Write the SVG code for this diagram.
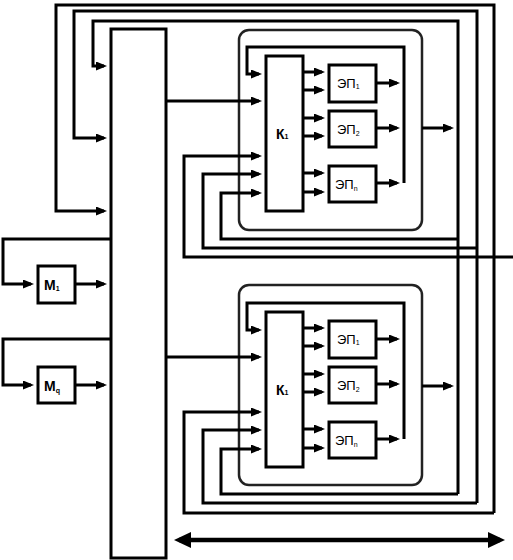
<svg xmlns="http://www.w3.org/2000/svg" width="513" height="560" viewBox="0 0 513 560">
<style>
.ln{fill:none;stroke:#000;stroke-width:3;stroke-linejoin:miter}
.ar{fill:none;stroke:#000;stroke-width:3;marker-end:url(#ah)}
.bx{fill:#fff;stroke:#000;stroke-width:3}
.grp{fill:none;stroke:#222;stroke-width:2.5}
.t{font-family:"Liberation Sans",Arial,sans-serif;font-size:13px;fill:#000}
.tb{font-family:"Liberation Sans",Arial,sans-serif;font-size:14px;font-weight:bold;fill:#000}
.s{font-size:7px}
</style>
<defs>
<marker id="ah" markerUnits="userSpaceOnUse" markerWidth="11" markerHeight="9" viewBox="0 0 11 9" refX="8" refY="4.5" orient="auto"><path d="M0,0 L11,4.5 L0,9 z" fill="#000"/></marker>
<marker id="big" markerUnits="userSpaceOnUse" markerWidth="17" markerHeight="16" viewBox="0 0 17 16" refX="12" refY="8" orient="auto-start-reverse"><path d="M0,0 L17,8 L0,16 z" fill="#000"/></marker>
</defs>

<g id="main-block"><rect class="bx" x="111" y="29" width="55" height="529"/></g>

<g id="module-1">
<rect class="grp" x="239" y="30" width="183" height="200" rx="10"/>
</g>
<g id="module-2">
<rect class="grp" x="239" y="285" width="183" height="200" rx="10"/>
</g>

<g id="connectors">
<path class="ln" d="M494,513 V5 H56 V211 H104" marker-end="url(#ah)"/>
<path class="ln" d="M477,503 V11 H74 V138 H104" marker-end="url(#ah)"/>
<path class="ln" d="M458,494 V21 H93 V66 H104" marker-end="url(#ah)"/>
<path class="ln" d="M513,257 H184 V156 H259" marker-end="url(#ah)"/>
<path class="ln" d="M477,248 H203 V174 H259" marker-end="url(#ah)"/>
<path class="ln" d="M458,239 H221 V193 H259" marker-end="url(#ah)"/>
<path class="ln" d="M494,513 H184 V412 H259" marker-end="url(#ah)"/>
<path class="ln" d="M477,503 H203 V430 H259" marker-end="url(#ah)"/>
<path class="ln" d="M458,494 H221 V449 H259" marker-end="url(#ah)"/>
<path class="ar" d="M166,101 H259"/>
<path class="ar" d="M166,357 H259"/>
<path class="ln" d="M111,239 H3 V284 H31" marker-end="url(#ah)"/>
<path class="ar" d="M75,284 H104"/>
<path class="ln" d="M111,339 H3 V385 H31" marker-end="url(#ah)"/>
<path class="ar" d="M75,385 H104"/>
<path class="ln" d="M404,183 V47 H247 V74 H259" marker-end="url(#ah)"/>
<path class="ar" d="M303,72 H322"/>
<path class="ar" d="M303,90 H322"/>
<path class="ar" d="M303,118 H322"/>
<path class="ar" d="M303,136 H322"/>
<path class="ar" d="M303,173 H322"/>
<path class="ar" d="M303,192 H322"/>
<path class="ar" d="M376,83 H397"/>
<path class="ar" d="M376,128 H397"/>
<path class="ar" d="M376,183 H397"/>
<path class="ar" d="M422,128 H451"/>
<path class="ln" d="M404,439 V303 H247 V330 H259" marker-end="url(#ah)"/>
<path class="ar" d="M303,328 H322"/>
<path class="ar" d="M303,346 H322"/>
<path class="ar" d="M303,374 H322"/>
<path class="ar" d="M303,392 H322"/>
<path class="ar" d="M303,429 H322"/>
<path class="ar" d="M303,448 H322"/>
<path class="ar" d="M376,339 H397"/>
<path class="ar" d="M376,384 H397"/>
<path class="ar" d="M376,439 H397"/>
<path class="ar" d="M422,386 H451"/>
<path d="M179,540 H500" fill="none" stroke="#000" stroke-width="4.5" marker-start="url(#big)" marker-end="url(#big)"/>
</g>

<g id="M1"><rect class="bx" x="38" y="266" width="37" height="37"/><text class="tb" x="44" y="290">М<tspan class="s" dy="1">1</tspan></text></g>
<g id="Mq"><rect class="bx" x="38" y="367" width="37" height="36"/><text class="tb" x="44" y="391">М<tspan class="s" dy="2">q</tspan></text></g>

<g id="K1"><rect class="bx" x="266" y="56" width="37" height="155"/><text class="tb" x="276" y="139">К<tspan class="s">1</tspan></text></g>
<g id="EP1-1"><rect class="bx" x="329" y="65" width="47" height="37"/><text class="t" x="337" y="88">ЭП<tspan class="s" dy="1">1</tspan></text></g>
<g id="EP2-1"><rect class="bx" x="329" y="111" width="47" height="36"/><text class="t" x="337" y="134">ЭП<tspan class="s" dy="2">2</tspan></text></g>
<g id="EPn-1"><rect class="bx" x="329" y="166" width="47" height="36"/><text class="t" x="335" y="189">ЭП<tspan class="s" dy="2">n</tspan></text></g>

<g id="K2"><rect class="bx" x="266" y="312" width="37" height="155"/><text class="tb" x="276" y="395">К<tspan class="s">1</tspan></text></g>
<g id="EP1-2"><rect class="bx" x="329" y="321" width="47" height="37"/><text class="t" x="337" y="344">ЭП<tspan class="s" dy="1">1</tspan></text></g>
<g id="EP2-2"><rect class="bx" x="329" y="367" width="47" height="36"/><text class="t" x="337" y="390">ЭП<tspan class="s" dy="2">2</tspan></text></g>
<g id="EPn-2"><rect class="bx" x="329" y="422" width="47" height="36"/><text class="t" x="335" y="445">ЭП<tspan class="s" dy="2">n</tspan></text></g>
</svg>
